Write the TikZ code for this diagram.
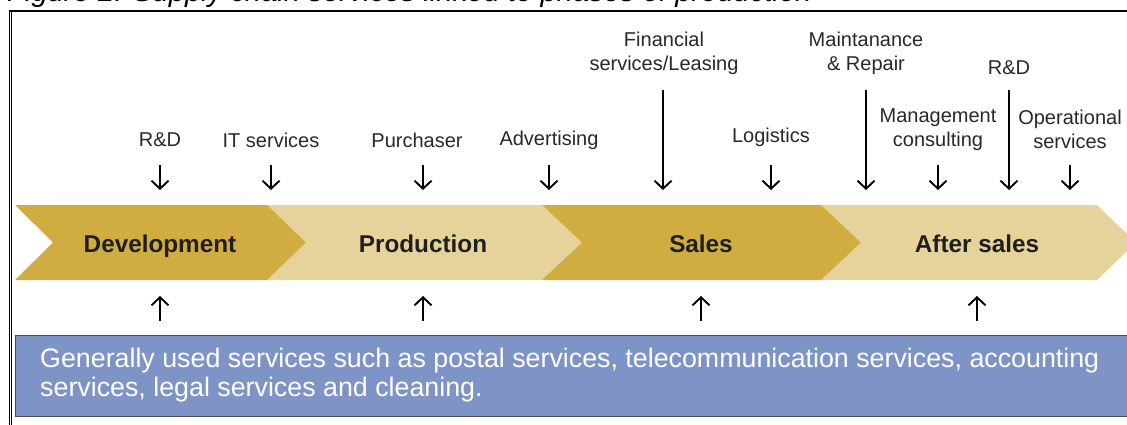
\documentclass[tikz,border=0pt]{standalone}
\usepackage{fontspec}
\setmainfont{Liberation Sans}
\usetikzlibrary{arrows.meta}
\definecolor{gold}{RGB}{209,172,64}
\definecolor{sand}{RGB}{230,210,155}
\definecolor{slate}{RGB}{127,148,198}
\definecolor{ink}{RGB}{40,40,40}
\begin{document}
\begin{tikzpicture}[x=1pt,y=-1pt,
  svc/.style={font=\fontsize{20}{24}\selectfont, text=ink, align=center, inner sep=0pt},
  phase/.style={font=\fontsize{24.3}{28}\selectfont\bfseries, text=black!88, inner sep=0pt, anchor=base},
  dar/.style={line width=1.9pt, -{Straight Barb[length=8pt,width=17pt,line width=1.9pt]}},
]
\useasboundingbox (0,0) rectangle (1127,425);

% caption, cut by the top edge
\node (title) [anchor=base west, inner sep=0pt, font=\fontsize{29.2}{31}\selectfont\itshape]
  at (7,1.5) {Figure 2: Supply chain services linked to phases of production};

% frame
\draw[line width=1.8pt] (9.3,11.2) -- (1130,11.2);
\draw[line width=1pt] (9.3,10.3) -- (9.3,430);
\draw[line width=0.8pt] (11.6,11.2) -- (11.6,430);

% phase band
\fill[sand] (267,205) -- (542,205) -- (582,242.5) -- (542,280) -- (267,280) -- (306,242.5) -- cycle;
\fill[sand] (821,205) -- (1097,205) -- (1136,242.5) -- (1097,280) -- (821,280) -- (861,242.5) -- cycle;
\fill[gold] (15,205) -- (267,205) -- (306,242.5) -- (267,280) -- (15,280) -- (53,242.5) -- cycle;
\fill[gold] (542,205) -- (821,205) -- (861,242.5) -- (821,280) -- (542,280) -- (582,242.5) -- cycle;

\node[phase] (dev)   at (160,252.3) {Development};
\node[phase] (prod)  at (423,252.3) {Production};
\node[phase] (sales) at (701,252.3) {Sales};
\node[phase] (after) at (977,252.3) {After sales};

% service labels
\node[svc] (rdA) at (160,140) {R\&D};
\node[svc] (its) at (271,140) {IT services};
\node[svc] (pur) at (417,140) {Purchaser};
\node[svc] (adv) at (549,140) {Advertising};
\node[svc] (fin) at (664,53)  {Financial\\services/Leasing};
\node[svc] (log) at (771,137) {Logistics};
\node[svc] (mai) at (866,53)  {Maintanance\\\& Repair};
\node[svc] (rdB) at (1009,67.5) {R\&D};
\node[svc] (man) at (938,129.5) {Management\\consulting};
\node[svc] (ope) at (1070,129.5) {Operational\\services};

% arrow rows
\coordinate (shortTop) at (0,165);
\coordinate (longTop)  at (0,90);
\coordinate (tipLine)  at (0,190);
\coordinate (upFoot)   at (0,321);
\coordinate (upTip)    at (0,296);

\draw[dar] (rdA |- shortTop) -- (rdA |- tipLine);
\draw[dar] (its |- shortTop) -- (its |- tipLine);
\draw[dar] ([xshift=6pt]pur.center |- shortTop) -- ([xshift=6pt]pur.center |- tipLine);
\draw[dar] (adv |- shortTop) -- (adv |- tipLine);
\draw[dar] ([xshift=-1pt]fin.center |- longTop) -- ([xshift=-1pt]fin.center |- tipLine);
\draw[dar] (log |- shortTop) -- (log |- tipLine);
\draw[dar] (mai |- longTop) -- (mai |- tipLine);
\draw[dar] (man |- shortTop) -- (man |- tipLine);
\draw[dar] (rdB |- longTop) -- (rdB |- tipLine);
\draw[dar] (ope |- shortTop) -- (ope |- tipLine);

% shared services
\fill[slate] (15,335.5) rectangle (1140,416.5);
\draw[line width=1pt, black!70] (1140,335.5) -- (15,335.5) -- (15,416.5) -- (1140,416.5);
\node (gen) [anchor=north west, inner sep=0pt, align=left, text=white,
  font=\fontsize{26.8}{29.5}\selectfont] at (40,347.5)
  {Generally used services such as postal services, telecommunication services, accounting\\
   services, legal services and cleaning.};

\draw[dar] (dev |- upFoot) -- (dev |- upTip);
\draw[dar] (prod |- upFoot) -- (prod |- upTip);
\draw[dar] (sales |- upFoot) -- (sales |- upTip);
\draw[dar] (after |- upFoot) -- (after |- upTip);
\end{tikzpicture}
\end{document}
